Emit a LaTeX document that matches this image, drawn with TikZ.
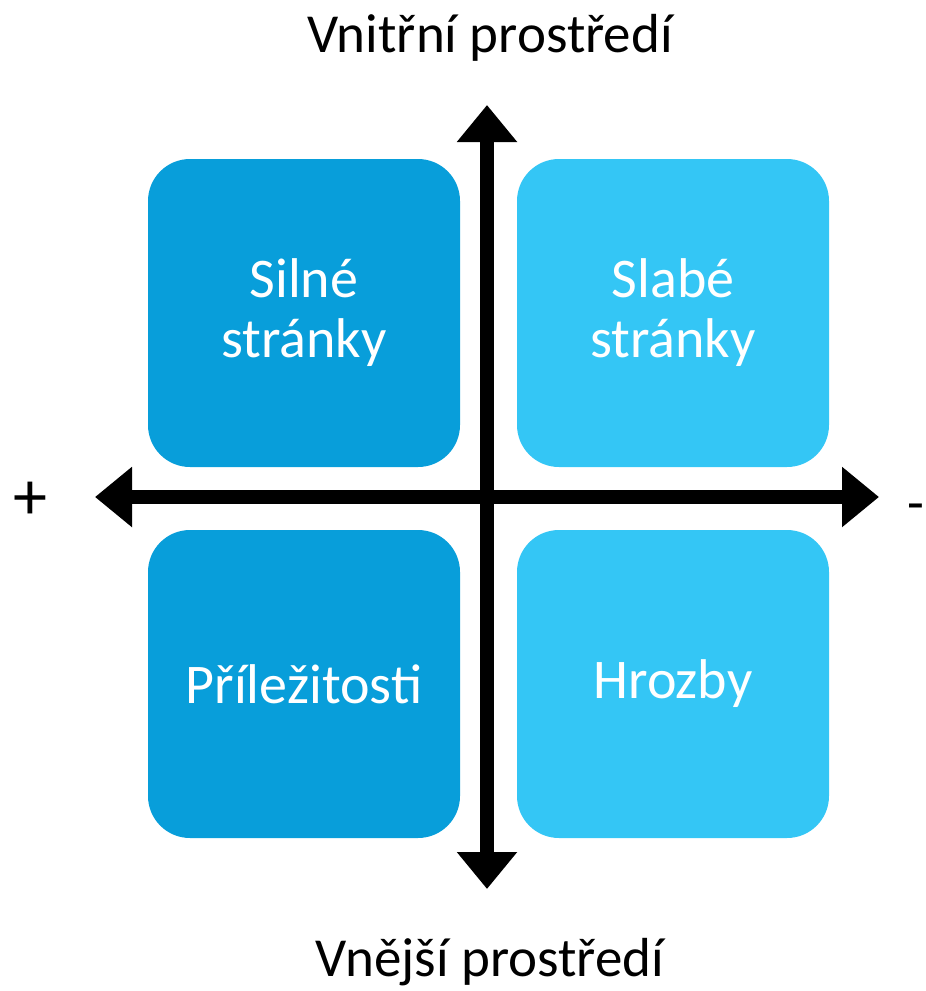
\documentclass[tikz,border=0pt]{standalone}
\usepackage{fontspec}
\setmainfont{Carlito}
\usetikzlibrary{arrows.meta}
\definecolor{darkbox}{RGB}{8,158,218}
\definecolor{lightbox}{RGB}{52,198,245}
\begin{document}
\begin{tikzpicture}[x=1pt,y=-1pt,
  quad/.style={rounded corners=42pt, minimum width=312pt, minimum height=308pt, inner sep=0pt,
    text=white, align=center, font=\fontsize{56}{60}\selectfont},
  axis/.style={line width=14pt, -{Triangle[width=58pt,length=37pt]}},
  label/.style={font=\fontsize{55}{60}\selectfont, text=black}]
\useasboundingbox (0,0) rectangle (926,991);
\node[quad, fill=darkbox] (s) at (304,313) {Silné\\stránky};
\node[quad, fill=lightbox] (w) at (673,313) {Slabé\\stránky};
\node[quad, fill=darkbox] (o) at (304,684) {Příležitosti};
\node[quad, fill=lightbox] (t) at (673,684) {Hrozby};
\coordinate (c) at (487,497);
\coordinate (top) at (487,105);
\coordinate (bot) at (487,889);
\coordinate (lft) at (95,497);
\coordinate (rgt) at (879,497);
\draw[axis] (c) -- (top);
\draw[axis] (c) -- (bot);
\draw[axis] (c) -- (lft);
\draw[axis] (c) -- (rgt);
\node[label, anchor=base] (vn) at (490,52) {Vnitřní prostředí};
\node[label, anchor=base] (ve) at (490,976) {Vnější prostředí};
\node[label, anchor=center, font=\fontsize{68}{70}\selectfont] (plus) at (30,501) {+};
\node[label, anchor=east, inner sep=0pt] (minus) at (925,513) {-};
\end{tikzpicture}
\end{document}
